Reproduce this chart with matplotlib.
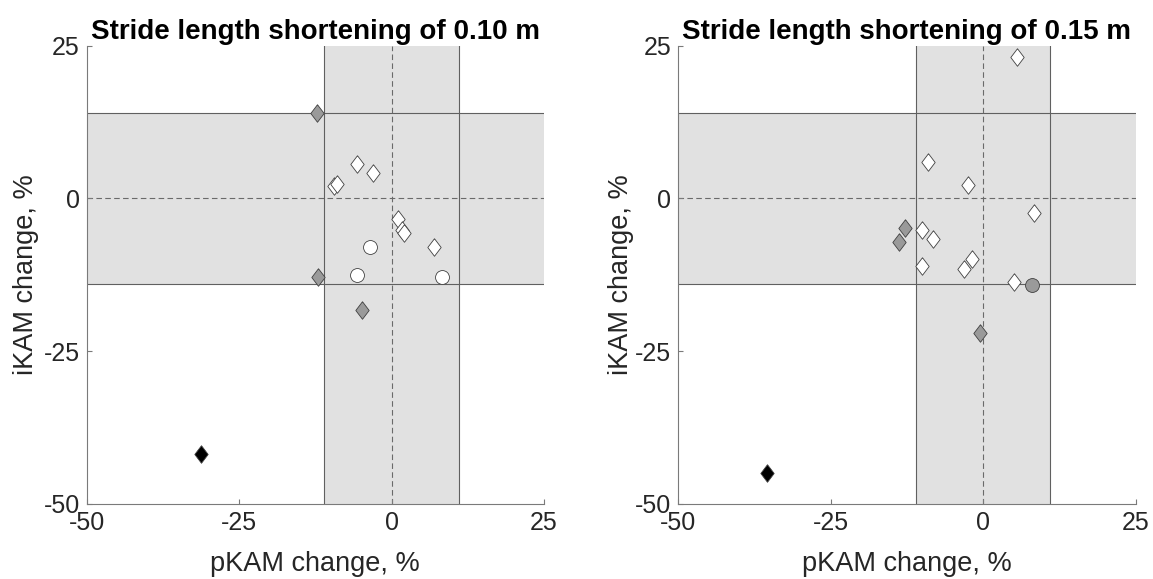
import matplotlib
matplotlib.use("Agg")
import matplotlib.pyplot as plt

plt.rcParams['font.family'] = ['Liberation Sans', 'DejaVu Sans']
plt.rcParams['axes.unicode_minus'] = False

# threshold band (+/- change considered within noise)
pkam_band = 11
ikam_band = 14

# 0.10 m shortening: (pKAM change, iKAM change), %
left_white_d_x = [-5.7, -3.0, -9.4, -9.0, 1.0, 1.7, 2.0, 7.0]
left_white_d_y = [5.7, 4.2, 2.0, 2.3, -3.3, -5.2, -5.6, -7.9]
left_white_o_x = [-3.6, -5.6, 8.2]
left_white_o_y = [-7.9, -12.5, -12.9]
left_gray_d_x = [-12.3, -12.0, -4.8]
left_gray_d_y = [14.0, -12.9, -18.3]
left_black_d_x = [-31.2]
left_black_d_y = [-41.8]

# 0.15 m shortening
right_white_d_x = [5.5, -9.1, -2.5, 8.4, -10.1, -8.2, -10.0, -1.8, -3.1, 5.0]
right_white_d_y = [23.1, 5.9, 2.2, -2.4, -5.1, -6.7, -11.0, -10.0, -11.6, -13.7]
right_gray_d_x = [-12.9, -13.8, -0.6]
right_gray_d_y = [-4.9, -7.1, -22.0]
right_gray_o_x = [8.0]
right_gray_o_y = [-14.1]
right_black_d_x = [-35.4]
right_black_d_y = [-44.9]

titles = ["Stride length shortening of 0.10 m", "Stride length shortening of 0.15 m"]

diamond = [(0, 1), (0.76, 0), (0, -1), (-0.76, 0), (0, 1)]
EDGE = '#404040'
GRAY = '#9a9a9a'
BAND = '#e1e1e1'
AXC = '#7a7a7a'
TXT = '#262626'


def setup(ax, title, ylab_x):
    ax.axvspan(-pkam_band, pkam_band, color=BAND, lw=0, zorder=0)
    ax.axhspan(-ikam_band, ikam_band, color=BAND, lw=0, zorder=0)
    for v in (-pkam_band, pkam_band):
        ax.axvline(v, color='#606060', lw=0.8, zorder=1)
    for v in (-ikam_band, ikam_band):
        ax.axhline(v, color='#606060', lw=0.8, zorder=1)
    ax.axvline(0, color='#6a6a6a', lw=0.8, ls=(0, (5, 3)), zorder=1)
    ax.axhline(0, color='#6a6a6a', lw=0.8, ls=(0, (5, 3)), zorder=1)
    ax.set_xlim(-50, 25)
    ax.set_ylim(-50, 25)
    ax.set_xticks([-50, -25, 0, 25])
    ax.set_yticks([-50, -25, 0, 25])
    for s in ('top', 'right'):
        ax.spines[s].set_visible(False)
    for s in ('left', 'bottom'):
        ax.spines[s].set_color(AXC)
        ax.spines[s].set_linewidth(0.8)
    ax.tick_params(direction='in', length=3.5, width=0.8, color=AXC,
                   labelsize=18, labelcolor=TXT, pad=5)
    ax.set_xlabel("pKAM change, %", fontsize=19.5, color=TXT)
    ax.set_ylabel("iKAM change, %", fontsize=19.5, color=TXT)
    ax.xaxis.set_label_coords(0.5, -0.104)
    ax.yaxis.set_label_coords(ylab_x, 0.5)
    ax.set_title(title, fontsize=20, fontweight='bold', pad=5)


def pts(ax, x, y, marker, face, size):
    ax.scatter(x, y, s=size, marker=marker, facecolor=face, edgecolor=EDGE,
               linewidth=0.6, zorder=3, clip_on=False)


fig = plt.figure(figsize=(11.53, 5.79), dpi=100)
ax1 = fig.add_axes([0.0752, 0.130, 0.3966, 0.791])
ax2 = fig.add_axes([0.5883, 0.130, 0.3966, 0.791])

setup(ax1, titles[0], -0.104)
pts(ax1, left_white_d_x, left_white_d_y, diamond, 'white', 160)
pts(ax1, left_white_o_x, left_white_o_y, 'o', 'white', 100)
pts(ax1, left_gray_d_x, left_gray_d_y, diamond, GRAY, 160)
pts(ax1, left_black_d_x, left_black_d_y, diamond, 'black', 160)

setup(ax2, titles[1], -0.097)
pts(ax2, right_white_d_x, right_white_d_y, diamond, 'white', 160)
pts(ax2, right_gray_d_x, right_gray_d_y, diamond, GRAY, 160)
pts(ax2, right_gray_o_x, right_gray_o_y, 'o', GRAY, 100)
pts(ax2, right_black_d_x, right_black_d_y, diamond, 'black', 160)

fig.savefig("out.png", dpi=100)
